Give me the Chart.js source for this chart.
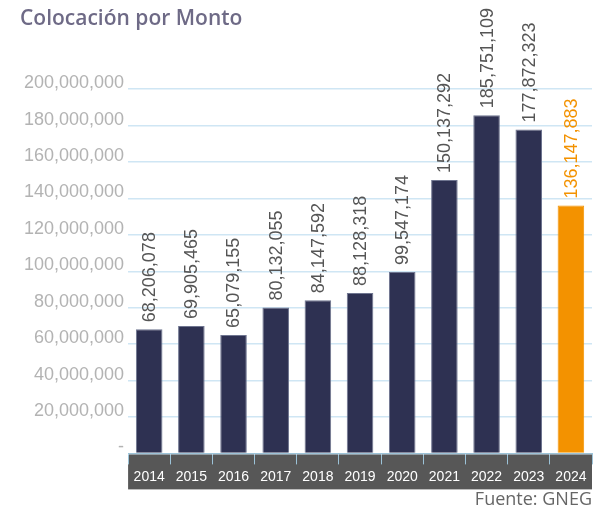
<!DOCTYPE html>
<html>
<head>
<meta charset="utf-8">
<script src="https://cdn.jsdelivr.net/npm/chart.js@4/dist/chart.umd.min.js"></script>
<style>
  body { margin: 0; background: #fff; }
  #wrap { width: 608px; height: 511px; }
</style>
</head>
<body>
<div id="wrap"><canvas id="chart"></canvas></div>
<script>
const years = ['2014', '2015', '2016', '2017', '2018', '2019', '2020', '2021', '2022', '2023', '2024']
const montos = [68206078, 69905465, 65079155, 80132055, 84147592, 88128318, 99547174, 150137292, 185751109, 177872323, 136147883]
const yTicks = [0, 20000000, 40000000, 60000000, 80000000, 100000000, 120000000, 140000000, 160000000, 180000000, 200000000]

const navy = '#2e3152'
const orange = '#f39200'
const barColors = years.map((y, i) => i === years.length - 1 ? orange : navy)
const labelColors = years.map((y, i) => i === years.length - 1 ? orange : '#555555')

const fmt = v => v.toLocaleString('en-US')

// rotated value labels above each bar
const valueLabels = {
  id: 'valueLabels',
  afterDatasetsDraw(chart) {
    const ctx = chart.ctx
    const meta = chart.getDatasetMeta(0)
    ctx.save()
    ctx.font = '18px "Liberation Sans", Arial, sans-serif'
    ctx.textAlign = 'left'
    ctx.textBaseline = 'middle'
    meta.data.forEach((bar, i) => {
      ctx.save()
      ctx.translate(bar.x, bar.y - 7)
      ctx.rotate(-Math.PI / 2)
      ctx.fillStyle = labelColors[i]
      ctx.fillText(fmt(montos[i]), 0, 1)
      ctx.restore()
    })
    ctx.restore()
  }
}

new Chart(document.getElementById('chart'), {
  type: 'bar',
  data: {
    labels: years,
    datasets: [{
      data: montos,
      backgroundColor: barColors,
      borderColor: years.map((y, i) => i === years.length - 1 ? orange : '#6f7590'),
      borderWidth: 1,
      barPercentage: 0.63,
      categoryPercentage: 1
    }]
  },
  plugins: [valueLabels],
  options: {
    responsive: true,
    maintainAspectRatio: false,
    animation: false,
    layout: {
      padding: { left: 20, right: 16, top: 0, bottom: 0 }
    },
    plugins: {
      legend: { display: false },
      tooltip: { enabled: false },
      title: {
        display: true,
        text: 'Colocación por Monto',
        align: 'start',
        color: '#6e6a86',
        font: { family: '"Open Sans", sans-serif', size: 21, weight: '600' },
        padding: { top: 6, bottom: 58 }
      },
      subtitle: {
        display: true,
        position: 'bottom',
        align: 'end',
        text: 'Fuente: GNEG',
        color: '#666666',
        font: { family: '"Open Sans", sans-serif', size: 18, weight: 'normal' },
        padding: { top: 0, bottom: 0 }
      }
    },
    scales: {
      x: {
        backgroundColor: '#575757',
        grid: {
          display: true,
          drawOnChartArea: false,
          drawTicks: true,
          tickLength: 11,
          color: '#9cc3d8',
          offset: true
        },
        border: { display: true, color: '#9cc3d8' },
        ticks: {
          color: '#ffffff',
          padding: 4,
          font: { family: '"Liberation Sans", Arial, sans-serif', size: 14 }
        },
        afterFit(scale) { scale.height = 36 }
      },
      y: {
        min: 0,
        max: 200000000,
        afterBuildTicks(scale) { scale.ticks = yTicks.map(v => ({ value: v })) },
        grid: {
          color: '#cfe6f4',
          drawTicks: false,
          lineWidth: 1.5
        },
        border: { display: false },
        ticks: {
          color: '#b3b3b3',
          padding: 4,
          labelOffset: -6,
          font: { family: '"Liberation Sans", Arial, sans-serif', size: 18 },
          callback: v => v === 0 ? '-' : fmt(v)
        }
      }
    }
  }
})
</script>
</body>
</html>
